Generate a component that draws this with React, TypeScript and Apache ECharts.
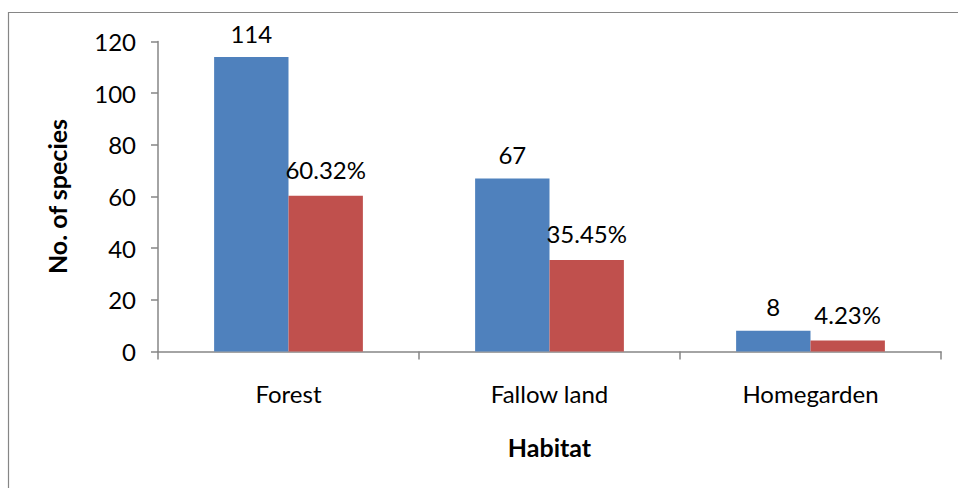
import React, { useEffect, useRef } from "react";
import * as echarts from "echarts";

const habitats = ["Forest", "Fallow land", "Homegarden"];
const speciesCount = [114, 67, 8];
const speciesShare = [60.32, 35.45, 4.23];
const yTicks = { min: 0, max: 120, interval: 20 };

const FONT = "Lato, 'Open Sans', sans-serif";
const AXIS_GRAY = "#868686";
const LABEL_SIZE = 24;
const TITLE_SIZE = 25;

export default function App() {
  const ref = useRef<HTMLDivElement>(null);

  useEffect(() => {
    if (!ref.current) return;
    const chart = echarts.init(ref.current, undefined, { renderer: "svg" });
    chart.setOption({
      animation: false,
      backgroundColor: "#ffffff",
      textStyle: { fontFamily: FONT, color: "#000" },
      graphic: [
        {
          type: "rect",
          shape: { x: 8.5, y: 12.5, width: 1000, height: 1000 },
          style: { fill: "none", stroke: AXIS_GRAY, lineWidth: 1.2 },
          silent: true,
          z: -1,
        },
      ],
      grid: { left: 158, top: 41.5, right: 17, bottom: 136.5 },
      xAxis: {
        type: "category",
        data: habitats,
        name: "Habitat",
        nameLocation: "middle",
        nameGap: 83,
        nameTextStyle: { fontFamily: FONT, fontSize: TITLE_SIZE, fontWeight: "bold", color: "#000" },
        axisLine: { show: true, lineStyle: { color: AXIS_GRAY, width: 1.5 } },
        axisTick: { show: true, length: 8, lineStyle: { color: AXIS_GRAY, width: 1.5 } },
        axisLabel: { fontFamily: FONT, fontSize: LABEL_SIZE, color: "#000", margin: 30 },
      },
      yAxis: {
        type: "value",
        min: yTicks.min,
        max: yTicks.max,
        interval: yTicks.interval,
        name: "No. of species",
        nameLocation: "middle",
        nameGap: 89,
        nameRotate: 90,
        nameTextStyle: { fontFamily: FONT, fontSize: TITLE_SIZE, fontWeight: "bold", color: "#000" },
        axisLine: { show: true, lineStyle: { color: AXIS_GRAY, width: 1.5 } },
        axisTick: { show: true, length: 7, lineStyle: { color: AXIS_GRAY, width: 1.5 } },
        axisLabel: { fontFamily: FONT, fontSize: LABEL_SIZE, color: "#000", margin: 22 },
        splitLine: { show: false },
      },
      series: [
        {
          name: "No. of species",
          type: "bar",
          data: speciesCount,
          barGap: "0%",
          barCategoryGap: "43%",
          itemStyle: { color: "#4F81BD" },
          label: {
            show: true,
            position: "top",
            distance: 12,
            formatter: "{c}",
            fontFamily: FONT,
            fontSize: LABEL_SIZE,
            color: "#000",
          },
        },
        {
          name: "Percentage",
          type: "bar",
          data: speciesShare,
          barGap: "0%",
          barCategoryGap: "43%",
          itemStyle: { color: "#C0504D" },
          label: {
            show: true,
            position: "top",
            distance: 14,
            formatter: "{c}%",
            fontFamily: FONT,
            fontSize: LABEL_SIZE,
            color: "#000",
          },
        },
      ],
    });
    return () => chart.dispose();
  }, []);

  return (
    <div
      ref={ref}
      style={{ position: "absolute", left: 0, top: 0, width: 958, height: 488 }}
    />
  );
}
